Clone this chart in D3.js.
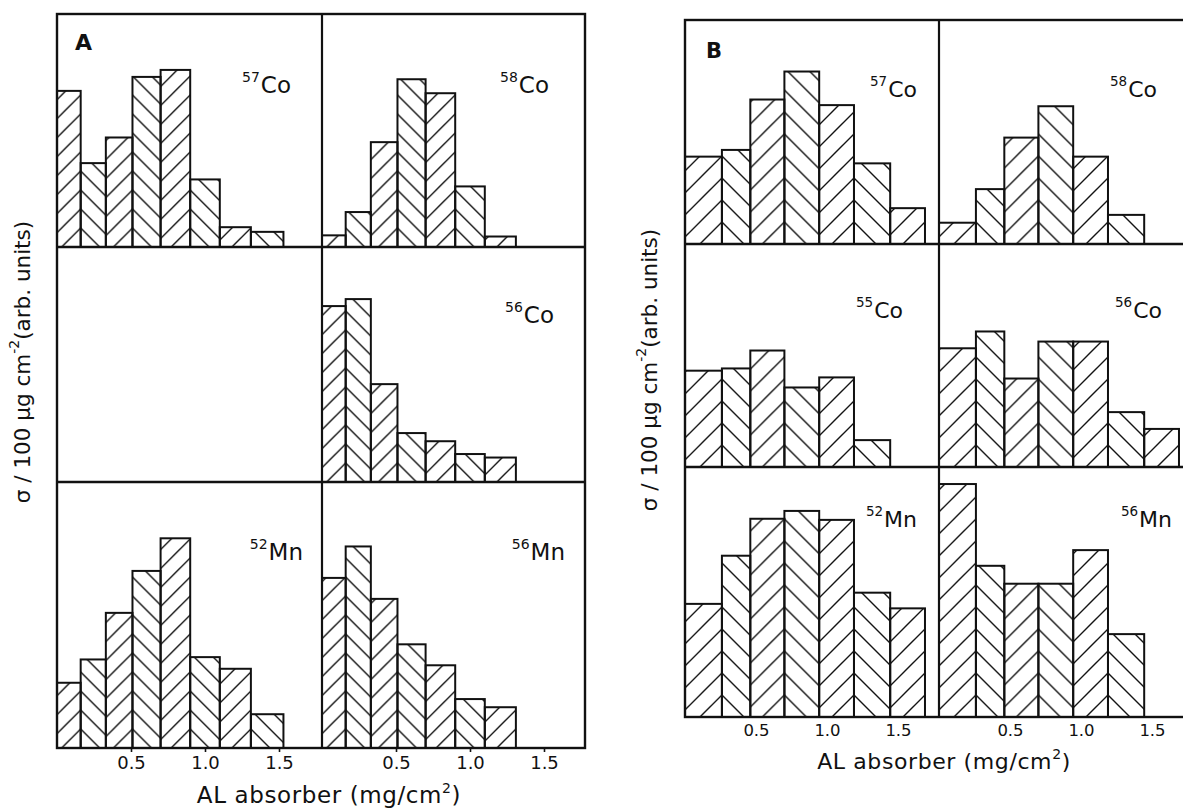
<!DOCTYPE html>
<html>
<head>
<meta charset="utf-8">
<script src="https://cdn.jsdelivr.net/npm/d3@7"></script>
<style>
  body { margin: 0; background: #fff; }
  svg { display: block; font-family: "DejaVu Sans", sans-serif; }
</style>
</head>
<body>
<div id="chart"></div>
<script>
// absorber bin edges (mg/cm2)
const edgesA = [0, 0.16, 0.33, 0.51, 0.70, 0.90, 1.10, 1.31, 1.53];
const edgesB = [0, 0.26, 0.46, 0.70, 0.945, 1.19, 1.445, 1.69];

const xTicks = [0.5, 1.0, 1.5];
const xTickLabels = ["0.5", "1.0", "1.5"];

// sigma per bin, arb. units
const a57Co = [6.7, 3.6, 4.7, 7.3, 7.6, 2.9, 0.85, 0.65];
const a58Co = [0.5, 1.5, 4.5, 7.2, 6.6, 2.6, 0.45];
const a56Co = [7.55, 7.85, 4.2, 2.1, 1.75, 1.2, 1.05];
const a52Mn = [2.8, 3.8, 5.8, 7.6, 9.0, 3.9, 3.4, 1.45];
const a56Mn = [7.3, 8.65, 6.4, 4.45, 3.55, 2.1, 1.75];

const b57Co = [3.9, 4.2, 6.45, 7.7, 6.2, 3.6, 1.6];
const b58Co = [0.95, 2.45, 4.75, 6.15, 3.9, 1.3];
const b55Co = [4.3, 4.4, 5.2, 3.55, 4.0, 1.2];
const b56Co = [5.3, 6.05, 3.95, 5.6, 5.6, 2.45, 1.7];
const b52Mn = [5.05, 7.2, 8.85, 9.2, 8.8, 5.55, 4.85];
const b56Mn = [10.4, 6.75, 5.95, 5.95, 7.45, 3.7];

const yLabel = "σ / 100 μg cm";
const xLabel = "AL absorber (mg/cm";

const figA = {
  letter: "A", letterPos: [75, 50], letterSize: 22,
  left: 57, mid: 322, right: 585, rows: [14, 247, 482, 748],
  pxPerMg: 148, pxPerUnit: 23.3, hatch: 19,
  edges: edgesA, tickSize: 4, tickPad: 4, tickFont: 18,
  yLabelPos: [24, 362], xLabelPos: [329, 803], xLabelSize: 23,
  isoSize: 23, supSize: 14,
  cells: [
    { row: 0, col: 0, mass: "57", el: "Co", values: a57Co, lab: [291, 93] },
    { row: 0, col: 1, mass: "58", el: "Co", values: a58Co, lab: [549, 93] },
    { row: 1, col: 1, mass: "56", el: "Co", values: a56Co, lab: [554, 323] },
    { row: 2, col: 0, mass: "52", el: "Mn", values: a52Mn, lab: [303, 560] },
    { row: 2, col: 1, mass: "56", el: "Mn", values: a56Mn, lab: [565, 560] }
  ]
};

const figB = {
  letter: "B", letterPos: [706, 58], letterSize: 21,
  left: 685, mid: 939, right: 1193, rows: [20, 244, 467, 717],
  pxPerMg: 142, pxPerUnit: 22.4, hatch: 22,
  edges: edgesB, tickSize: 0, tickPad: 7, tickFont: 16.5,
  yLabelPos: [651, 370], xLabelPos: [944, 769], xLabelSize: 22,
  isoSize: 22, supSize: 13.5,
  cells: [
    { row: 0, col: 0, mass: "57", el: "Co", values: b57Co, lab: [917, 97] },
    { row: 0, col: 1, mass: "58", el: "Co", values: b58Co, lab: [1157, 97] },
    { row: 1, col: 0, mass: "55", el: "Co", values: b55Co, lab: [903, 318] },
    { row: 1, col: 1, mass: "56", el: "Co", values: b56Co, lab: [1162, 318] },
    { row: 2, col: 0, mass: "52", el: "Mn", values: b52Mn, lab: [917, 527] },
    { row: 2, col: 1, mass: "56", el: "Mn", values: b56Mn, lab: [1172, 527] }
  ]
};

const ink = "#111";
const svg = d3.select("#chart").append("svg").attr("width", 1183).attr("height", 810);
const defs = svg.append("defs");
let patId = 0;

function drawFigure(fig) {
  const g = svg.append("g");
  const cols = [[fig.left, fig.mid], [fig.mid, fig.right]];

  fig.cells.forEach(cell => {
    const [x0, x1] = cols[cell.col];
    const top = fig.rows[cell.row], bottom = fig.rows[cell.row + 1];
    const x = d3.scaleLinear().domain([0, (x1 - x0) / fig.pxPerMg]).range([x0, x1]);
    const y = d3.scaleLinear().domain([0, (bottom - top) / fig.pxPerUnit]).range([bottom, top]);

    const bins = cell.values.map((v, i) => ({ lo: fig.edges[i], hi: fig.edges[i + 1], v, i }));

    // alternating "/" and "\" hatching, anchored so neighbours meet in chevrons
    bins.forEach(b => {
      const p = fig.hatch;
      const fwd = b.i % 2 === 0;
      b.pat = "h" + (patId++);
      defs.append("pattern")
        .attr("id", b.pat)
        .attr("patternUnits", "userSpaceOnUse")
        .attr("width", p).attr("height", p)
        .attr("x", fwd ? x(b.hi) : x(b.lo)).attr("y", y(0))
        .append("path")
        .attr("d", fwd
          ? `M0,${p}L${p},0M-2,2L2,-2M${p - 2},${p + 2}L${p + 2},${p - 2}`
          : `M0,0L${p},${p}M-2,${p - 2}L2,${p + 2}M${p - 2},-2L${p + 2},2`)
        .attr("stroke", ink).attr("stroke-width", 1.4).attr("fill", "none");
    });

    g.append("g").selectAll("rect")
      .data(bins)
      .join("rect")
      .attr("x", d => x(d.lo))
      .attr("width", d => x(d.hi) - x(d.lo))
      .attr("y", d => y(d.v))
      .attr("height", d => y(0) - y(d.v))
      .attr("fill", d => `url(#${d.pat})`)
      .attr("stroke", ink)
      .attr("stroke-width", 2);

    const t = g.append("text")
      .attr("x", cell.lab[0]).attr("y", cell.lab[1])
      .attr("text-anchor", "end").attr("fill", ink);
    t.append("tspan").attr("font-size", fig.supSize).attr("dy", -11).text(cell.mass);
    t.append("tspan").attr("font-size", fig.isoSize).attr("dy", 11).attr("dx", 1).text(cell.el);
  });

  // x axes under the bottom row
  cols.forEach(([x0, x1]) => {
    const x = d3.scaleLinear().domain([0, (x1 - x0) / fig.pxPerMg]).range([x0, x1]);
    const ax = g.append("g")
      .attr("transform", `translate(0,${fig.rows[3]})`)
      .call(d3.axisBottom(x).tickValues(xTicks)
        .tickFormat((d, i) => xTickLabels[i])
        .tickSize(fig.tickSize).tickPadding(fig.tickPad));
    ax.select(".domain").remove();
    ax.selectAll("line").attr("stroke", ink).attr("stroke-width", 1.6);
    ax.selectAll("text").attr("font-size", fig.tickFont).attr("font-family", "DejaVu Sans").attr("fill", ink);
  });

  // frame and grid of sub-panels
  g.append("rect")
    .attr("x", fig.left).attr("y", fig.rows[0])
    .attr("width", fig.right - fig.left).attr("height", fig.rows[3] - fig.rows[0])
    .attr("fill", "none").attr("stroke", ink).attr("stroke-width", 2.4);
  g.append("line")
    .attr("x1", fig.mid).attr("x2", fig.mid).attr("y1", fig.rows[0]).attr("y2", fig.rows[3])
    .attr("stroke", ink).attr("stroke-width", 2.2);
  g.selectAll(null).data([fig.rows[1], fig.rows[2]]).join("line")
    .attr("x1", fig.left).attr("x2", fig.right).attr("y1", d => d).attr("y2", d => d)
    .attr("stroke", ink).attr("stroke-width", 2.4);

  g.append("text")
    .attr("x", fig.letterPos[0]).attr("y", fig.letterPos[1])
    .attr("font-size", fig.letterSize).attr("font-weight", "bold").attr("fill", ink)
    .text(fig.letter);

  const yl = g.append("text")
    .attr("transform", `translate(${fig.yLabelPos[0]},${fig.yLabelPos[1]}) rotate(-90)`)
    .attr("text-anchor", "middle").attr("dominant-baseline", "middle")
    .attr("font-size", 21.5).attr("fill", ink);
  yl.append("tspan").text(yLabel);
  yl.append("tspan").attr("font-size", 14).attr("dy", -9).text("-2");
  yl.append("tspan").attr("dy", 9).text("(arb. units)");

  const xl = g.append("text")
    .attr("x", fig.xLabelPos[0]).attr("y", fig.xLabelPos[1])
    .attr("text-anchor", "middle").attr("font-size", fig.xLabelSize)
    .attr("letter-spacing", 0.6).attr("fill", ink);
  xl.append("tspan").text(xLabel);
  xl.append("tspan").attr("font-size", 14).attr("dy", -10).text("2");
  xl.append("tspan").attr("dy", 10).text(")");
}

drawFigure(figA);
drawFigure(figB);
</script>
</body>
</html>
